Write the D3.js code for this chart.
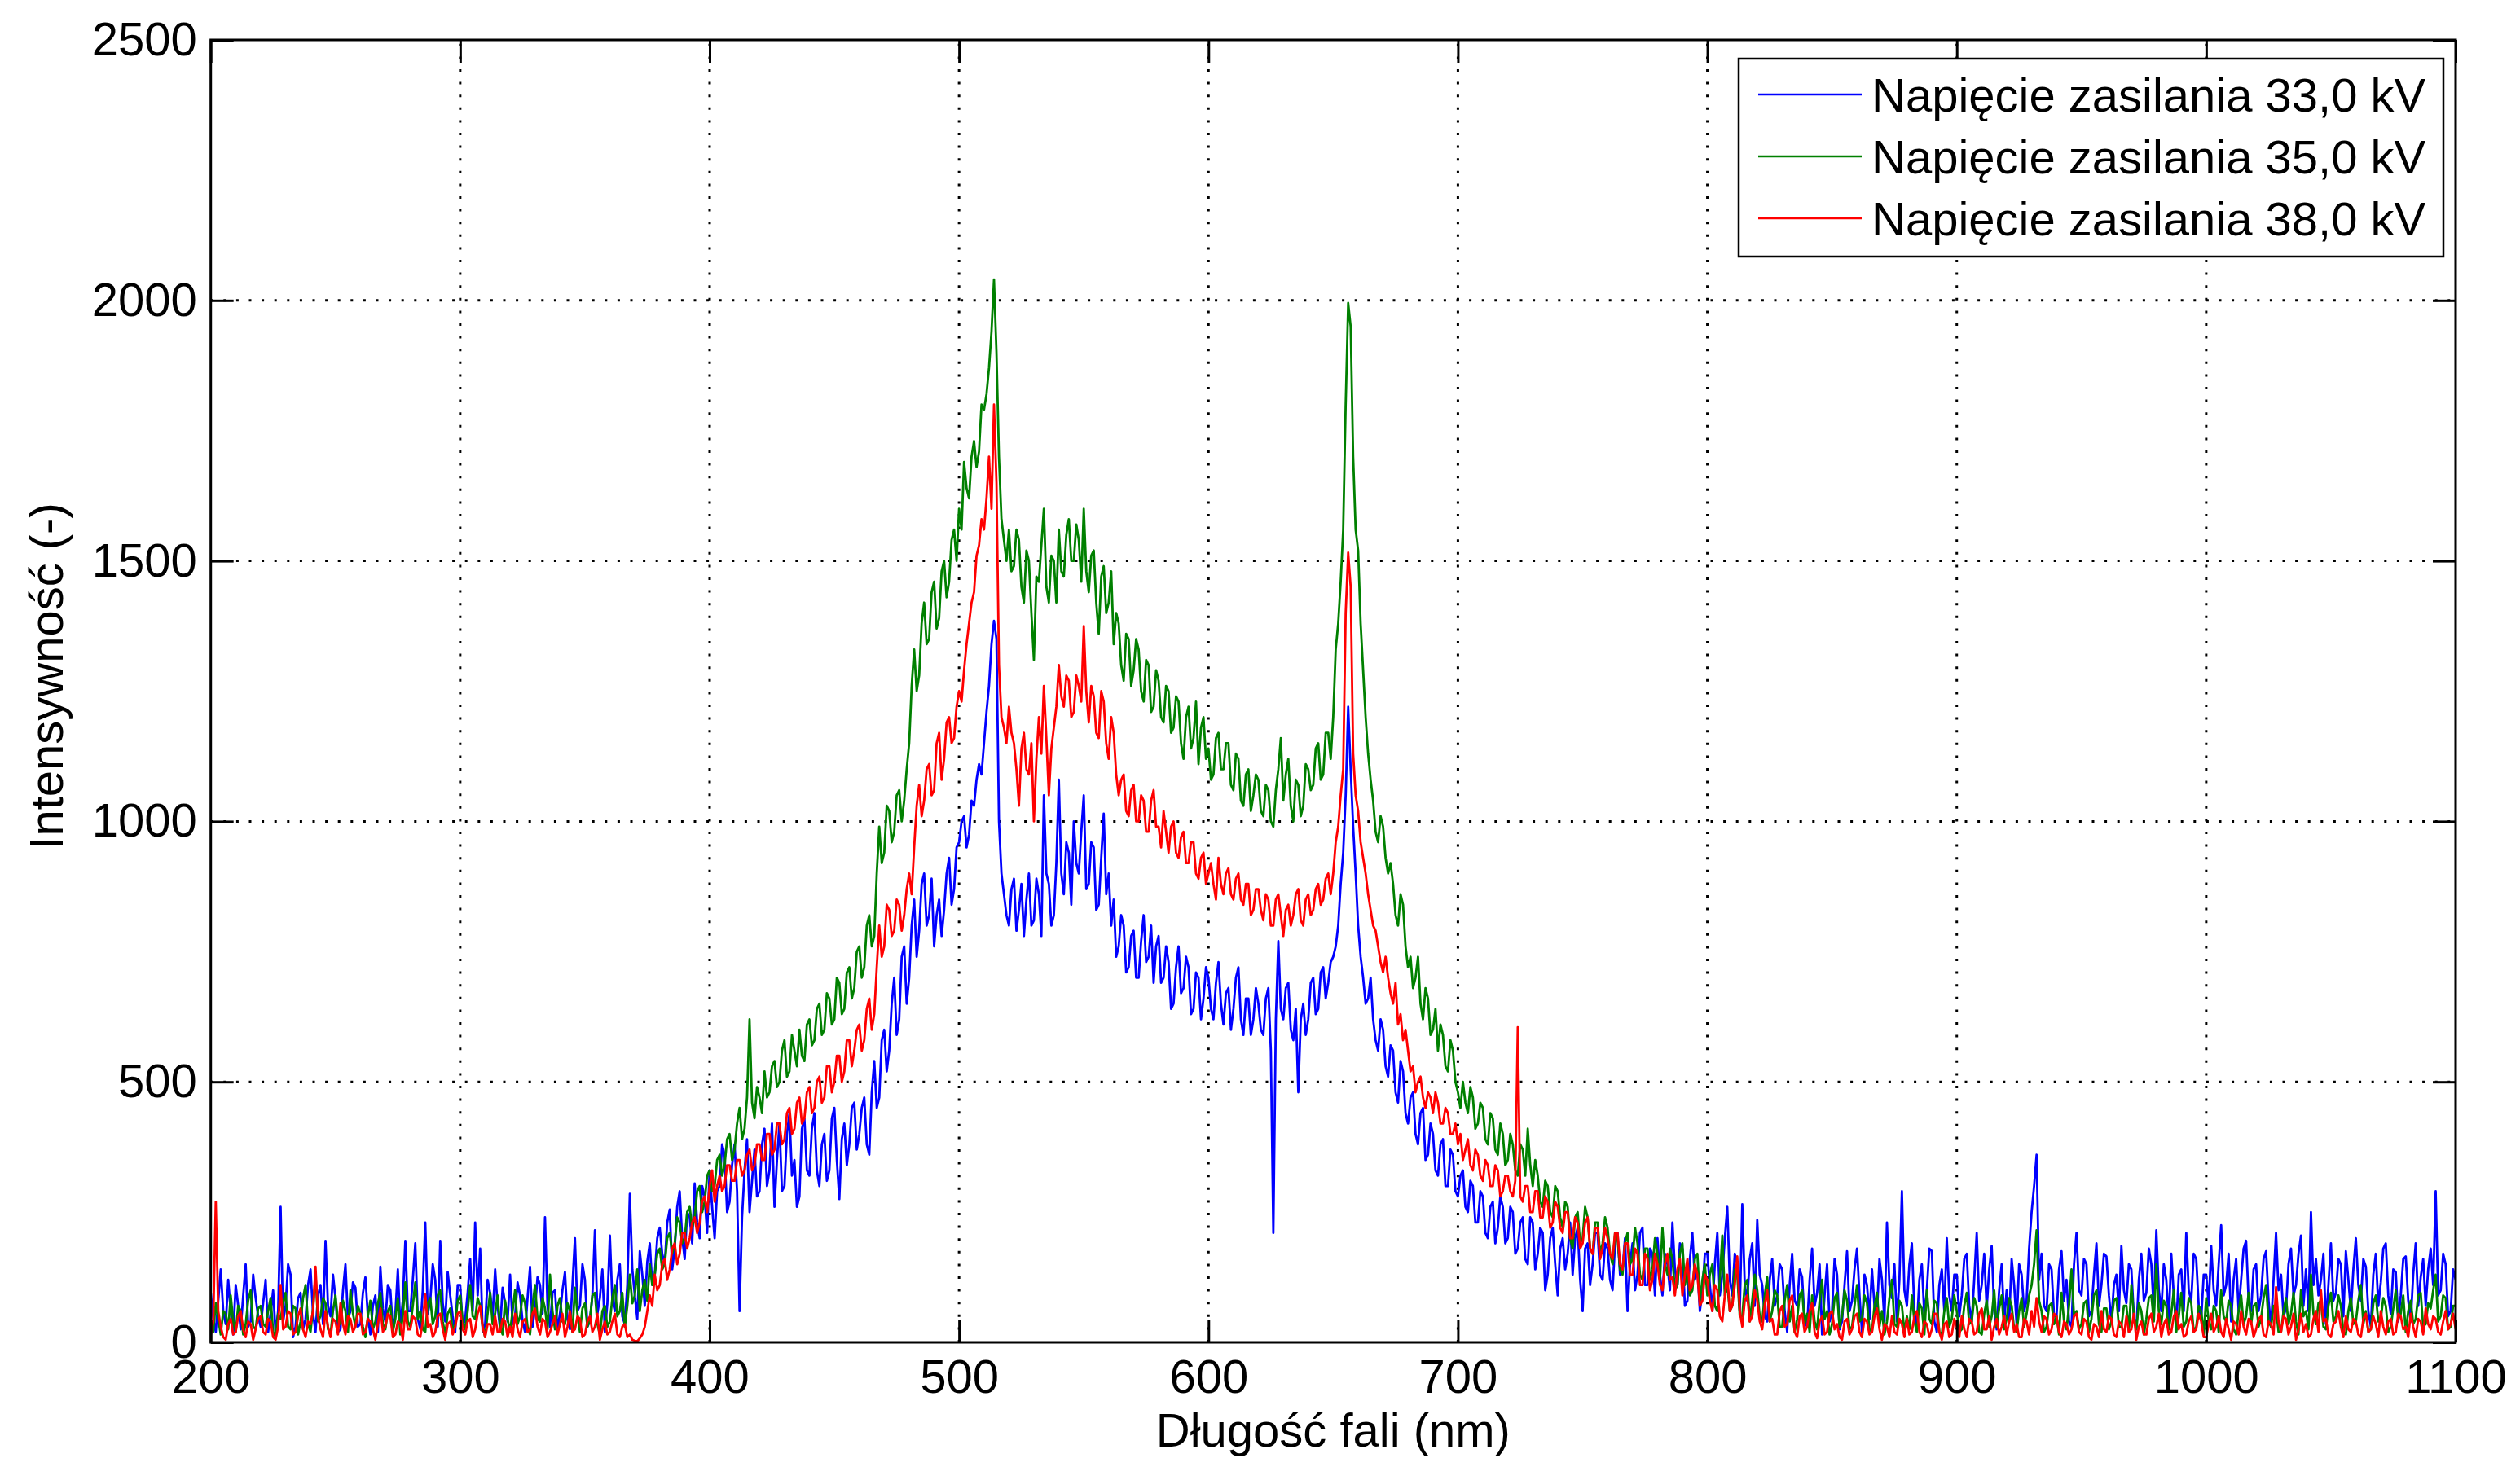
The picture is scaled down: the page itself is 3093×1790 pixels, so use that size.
<!DOCTYPE html>
<html>
<head>
<meta charset="utf-8">
<script src="https://cdn.jsdelivr.net/npm/d3@7"></script>
<style>
    body { margin: 0; background: #fff; }
</style>
</head>
<body>
<svg id="chart"></svg>
<script>
// Spectrum sampling grid (nm)
const wavelengthStart = 200;
const wavelengthStep = 1;

// Tick values
const xTicks = [200, 300, 400, 500, 600, 700, 800, 900, 1000, 1100];
const yTicks = [0, 500, 1000, 1500, 2000, 2500];

// Legend
const seriesLabels = ["Napięcie zasilania 33,0 kV", "Napięcie zasilania 35,0 kV", "Napięcie zasilania 38,0 kV"];
const seriesColors = ["#0000ff", "#008000", "#ff0000"];

// Intensity, one value per nm from 200 to 1100 nm (20 per row)
const intensity33kV = [
    /* 200 */ 95, 45, 20, 80, 140, 60, 35, 120, 60, 15, 110, 70, 25, 90, 150, 30, 40, 130, 85, 50,
    /* 220 */ 30, 75, 120, 20, 55, 100, 15, 60, 260, 40, 70, 150, 130, 10, 30, 85, 95, 25, 45, 110,
    /* 240 */ 140, 55, 20, 90, 110, 35, 195, 70, 50, 130, 85, 20, 25, 100, 150, 45, 60, 115, 105, 30,
    /* 260 */ 35, 95, 125, 50, 15, 70, 90, 20, 145, 65, 40, 110, 100, 25, 55, 140, 30, 80, 195, 60,
    /* 280 */ 60, 120, 190, 45, 25, 100, 230, 55, 80, 150, 120, 30, 195, 75, 40, 135, 90, 50, 20, 110,
    /* 300 */ 110, 30, 45, 95, 160, 60, 230, 90, 180, 20, 35, 120, 95, 50, 140, 70, 25, 105, 75, 40,
    /* 320 */ 130, 35, 50, 115, 90, 40, 20, 85, 145, 30, 65, 125, 110, 55, 240, 70, 30, 95, 100, 25,
    /* 340 */ 55, 100, 135, 45, 25, 110, 200, 60, 70, 150, 120, 30, 40, 90, 215, 55, 85, 140, 20, 75,
    /* 360 */ 205, 80, 60, 120, 150, 50, 35, 110, 285, 140, 90, 45, 175, 130, 70, 155, 190, 110, 130, 200,
    /* 380 */ 220, 170, 150, 230, 255, 140, 180, 260, 290, 200, 160, 250, 240, 190, 305, 230, 200, 300, 280, 210,
    /* 400 */ 330, 260, 200, 290, 300, 380, 360, 250, 270, 340, 380, 290, 60, 240, 330, 390, 250, 310, 370, 280,
    /* 420 */ 290, 380, 410, 300, 330, 420, 260, 350, 420, 290, 300, 400, 440, 320, 350, 260, 280, 410, 430, 330,
    /* 440 */ 320, 410, 440, 330, 300, 380, 400, 310, 330, 430, 450, 350, 275, 390, 420, 340, 380, 450, 460, 370,
    /* 460 */ 400, 450, 470, 380, 360, 480, 540, 450, 470, 580, 600, 520, 560, 650, 700, 590, 620, 740, 760, 650,
    /* 480 */ 700, 800, 850, 740, 790, 880, 900, 800, 820, 890, 760, 820, 850, 780, 830, 900, 930, 840, 870, 950,
    /* 500 */ 960, 1000, 1010, 950, 975, 1040, 1030, 1080, 1110, 1090, 1150, 1210, 1260, 1340, 1385, 1350, 1000, 900, 860, 820,
    /* 520 */ 800, 870, 890, 790, 830, 880, 780, 850, 900, 800, 810, 890, 860, 780, 1050, 900, 880, 800, 820, 920,
    /* 540 */ 1080, 900, 860, 960, 940, 840, 1000, 920, 900, 980, 1050, 870, 880, 960, 950, 830, 840, 930, 1015, 860,
    /* 560 */ 900, 800, 850, 740, 760, 820, 800, 710, 720, 780, 790, 700, 700, 770, 820, 730, 740, 800, 690, 760,
    /* 580 */ 780, 690, 700, 760, 730, 640, 650, 720, 760, 670, 680, 740, 720, 630, 640, 710, 700, 620, 660, 720,
    /* 600 */ 700, 640, 620, 690, 730, 650, 610, 670, 680, 600, 640, 700, 720, 620, 590, 660, 660, 590, 620, 680,
    /* 620 */ 650, 600, 590, 660, 680, 560, 210, 620, 770, 640, 620, 680, 690, 600, 580, 640, 480, 620, 650, 590,
    /* 640 */ 620, 690, 700, 630, 640, 710, 720, 660, 690, 730, 740, 760, 800, 880, 940, 1050, 1220, 1100, 990, 900,
    /* 660 */ 800, 740, 700, 650, 660, 700, 620, 580, 560, 620, 600, 530, 510, 570, 560, 480, 460, 540, 520, 440,
    /* 680 */ 420, 470, 480, 400, 380, 440, 450, 350, 360, 420, 400, 330, 320, 380, 390, 300, 300, 370, 360, 290,
    /* 700 */ 280, 320, 330, 260, 250, 310, 300, 230, 230, 290, 280, 210, 200, 260, 270, 190, 220, 280, 260, 190,
    /* 720 */ 200, 260, 250, 170, 180, 230, 240, 160, 150, 240, 230, 140, 170, 220, 210, 100, 130, 200, 220, 150,
    /* 740 */ 90, 180, 200, 140, 170, 230, 130, 200, 220, 120, 60, 180, 190, 110, 150, 210, 210, 130, 120, 190,
    /* 760 */ 180, 120, 100, 190, 210, 130, 140, 200, 60, 150, 190, 100, 130, 210, 220, 110, 110, 180, 170, 90,
    /* 780 */ 200, 130, 90, 170, 150, 100, 230, 140, 110, 190, 180, 70, 80, 160, 210, 120, 140, 60, 95, 170,
    /* 800 */ 170, 110, 60, 150, 210, 90, 130, 200, 260, 120, 90, 170, 150, 60, 265, 110, 80, 160, 190, 70,
    /* 820 */ 235, 130, 110, 50, 40, 120, 160, 70, 90, 150, 140, 60, 20, 110, 170, 80, 70, 140, 125, 40,
    /* 840 */ 30, 120, 180, 70, 95, 150, 15, 90, 150, 40, 60, 160, 130, 25, 40, 110, 175, 60, 80, 140,
    /* 860 */ 180, 90, 20, 130, 110, 45, 140, 70, 55, 160, 120, 40, 230, 110, 85, 150, 40, 120, 290, 100,
    /* 880 */ 70, 150, 190, 60, 30, 120, 150, 50, 100, 180, 175, 40, 20, 110, 140, 60, 200, 90, 60, 130,
    /* 900 */ 130, 50, 90, 160, 170, 70, 40, 120, 210, 80, 110, 170, 65, 140, 185, 60, 25, 100, 150, 40,
    /* 920 */ 100, 40, 160, 110, 35, 150, 130, 60, 80, 180, 250, 300, 360, 120, 170, 70, 60, 150, 140, 50,
    /* 940 */ 50, 140, 175, 80, 120, 40, 30, 150, 210, 100, 90, 160, 150, 50, 60, 130, 190, 70, 110, 170,
    /* 960 */ 165, 90, 40, 110, 130, 60, 185, 100, 75, 150, 140, 50, 25, 120, 170, 80, 95, 180, 150, 60,
    /* 980 */ 215, 100, 60, 150, 120, 40, 170, 90, 30, 130, 140, 60, 210, 100, 80, 170, 160, 70, 45, 130,
    /* 1000 */ 130, 70, 185, 100, 70, 150, 225, 90, 110, 170, 40, 120, 160, 60, 120, 180, 195, 80, 60, 140,
    /* 1020 */ 150, 60, 90, 160, 175, 80, 30, 120, 210, 100, 130, 50, 65, 150, 180, 90, 110, 170, 205, 70,
    /* 1040 */ 140, 60, 250, 110, 160, 90, 120, 170, 35, 110, 190, 80, 95, 160, 150, 50, 175, 120, 60, 140,
    /* 1060 */ 200, 110, 80, 160, 145, 60, 30, 130, 170, 70, 115, 180, 190, 90, 55, 140, 135, 40, 90, 160,
    /* 1080 */ 165, 80, 40, 130, 190, 70, 125, 160, 70, 140, 180, 110, 290, 90, 100, 170, 150, 50, 60, 140,
    /* 1100 */ 120
];

const intensity35kV = [
    /* 200 */ 40, 20, 75, 45, 15, 60, 55, 25, 90, 40, 20, 70, 60, 15, 35, 80, 100, 30, 25, 65,
    /* 220 */ 70, 35, 30, 60, 85, 20, 10, 55, 45, 75, 95, 30, 25, 70, 65, 15, 40, 85, 110, 35,
    /* 240 */ 20, 65, 130, 40, 50, 85, 75, 25, 15, 60, 90, 40, 35, 80, 60, 20, 100, 55, 30, 70,
    /* 260 */ 55, 30, 10, 50, 80, 25, 40, 75, 95, 35, 25, 60, 70, 20, 45, 85, 15, 50, 115, 40,
    /* 280 */ 30, 70, 115, 45, 60, 25, 20, 75, 85, 35, 50, 90, 100, 40, 15, 55, 65, 20, 35, 80,
    /* 300 */ 90, 40, 25, 60, 110, 50, 45, 85, 70, 30, 10, 55, 95, 35, 55, 90, 30, 15, 80, 45,
    /* 320 */ 20, 60, 100, 35, 50, 90, 75, 30, 15, 70, 110, 45, 40, 85, 65, 25, 130, 60, 25, 70,
    /* 340 */ 85, 40, 35, 75, 60, 20, 105, 55, 20, 65, 75, 30, 45, 90, 95, 35, 15, 60, 70, 30,
    /* 360 */ 40, 85, 110, 50, 60, 95, 30, 70, 130, 75, 90, 140, 60, 100, 120, 80, 150, 110, 130, 170,
    /* 380 */ 180, 140, 150, 200, 210, 170, 190, 240, 230, 190, 200, 250, 260, 220, 240, 290, 300, 250, 270, 320,
    /* 400 */ 330, 290, 300, 350, 360, 320, 340, 390, 400, 350, 370, 420, 450, 390, 410, 470, 620, 460, 430, 490,
    /* 420 */ 470, 440, 520, 470, 480, 530, 540, 490, 500, 560, 580, 510, 520, 590, 560, 530, 600, 550, 540, 610,
    /* 440 */ 620, 570, 580, 640, 650, 590, 600, 670, 660, 610, 620, 700, 690, 630, 640, 710, 720, 660, 680, 750,
    /* 460 */ 760, 700, 720, 800, 820, 760, 780, 900, 990, 920, 940, 1030, 1020, 960, 980, 1050, 1060, 1000, 1040, 1100,
    /* 480 */ 1150, 1260, 1330, 1250, 1280, 1380, 1420, 1340, 1350, 1440, 1460, 1370, 1390, 1480, 1500, 1430, 1460, 1540, 1560, 1500,
    /* 500 */ 1600, 1560, 1690, 1640, 1620, 1700, 1730, 1680, 1710, 1800, 1790, 1820, 1870, 1940, 2040, 1900, 1700, 1580, 1540, 1500,
    /* 520 */ 1560, 1480, 1490, 1560, 1540, 1450, 1420, 1520, 1500, 1400, 1310, 1470, 1460, 1530, 1600, 1450, 1420, 1510, 1500, 1420,
    /* 540 */ 1560, 1480, 1470, 1550, 1580, 1500, 1500, 1570, 1540, 1460, 1600, 1480, 1440, 1510, 1520, 1420, 1360, 1470, 1490, 1400,
    /* 560 */ 1420, 1480, 1340, 1400, 1380, 1300, 1270, 1360, 1350, 1260, 1290, 1350, 1330, 1250, 1230, 1310, 1300, 1210, 1220, 1290,
    /* 580 */ 1270, 1200, 1190, 1260, 1250, 1170, 1180, 1240, 1230, 1150, 1120, 1200, 1220, 1140, 1160, 1230, 1110, 1180, 1200, 1120,
    /* 600 */ 1140, 1080, 1090, 1160, 1170, 1100, 1100, 1150, 1150, 1070, 1060, 1130, 1120, 1040, 1030, 1090, 1100, 1020, 1050, 1090,
    /* 620 */ 1080, 1020, 1010, 1070, 1060, 1000, 990, 1060, 1100, 1160, 1040, 1090, 1120, 1030, 1000, 1080, 1070, 1010, 1030, 1110,
    /* 640 */ 1100, 1060, 1070, 1140, 1150, 1080, 1090, 1170, 1170, 1120, 1200, 1330, 1380, 1460, 1560, 1800, 1995, 1950, 1700, 1560,
    /* 660 */ 1520, 1380, 1290, 1200, 1130, 1080, 1040, 980, 960, 1010, 990, 930, 900, 920, 880, 820, 800, 860, 840, 760,
    /* 680 */ 720, 740, 680, 700, 740, 650, 620, 680, 660, 590, 600, 640, 560, 610, 590, 530, 520, 580, 560, 500,
    /* 700 */ 480, 450, 500, 460, 440, 490, 470, 410, 420, 460, 450, 390, 380, 440, 430, 370, 360, 420, 400, 340,
    /* 720 */ 350, 400, 380, 330, 320, 380, 370, 320, 410, 340, 300, 350, 320, 270, 260, 310, 300, 250, 240, 300,
    /* 740 */ 290, 240, 220, 270, 260, 200, 180, 240, 250, 190, 200, 260, 240, 180, 170, 230, 230, 170, 190, 240,
    /* 760 */ 220, 170, 150, 210, 200, 140, 130, 190, 210, 150, 160, 220, 190, 130, 120, 180, 180, 120, 140, 200,
    /* 780 */ 170, 120, 220, 150, 130, 180, 160, 100, 110, 170, 190, 110, 140, 90, 100, 160, 170, 80, 120, 150,
    /* 800 */ 90, 130, 150, 70, 60, 120, 205, 90, 110, 60, 70, 140, 130, 50, 50, 110, 120, 40, 80, 130,
    /* 820 */ 100, 50, 40, 90, 125, 40, 60, 100, 90, 30, 30, 80, 110, 40, 70, 20, 45, 90, 100, 35,
    /* 840 */ 55, 20, 90, 40, 25, 80, 120, 45, 60, 15, 35, 85, 95, 30, 50, 100, 80, 25, 30, 70,
    /* 860 */ 110, 40, 45, 90, 75, 25, 20, 70, 95, 30, 60, 15, 40, 85, 120, 35, 30, 80, 70, 20,
    /* 880 */ 50, 25, 90, 40, 20, 75, 65, 15, 100, 45, 35, 80, 75, 20, 15, 60, 85, 30, 45, 90,
    /* 900 */ 60, 20, 25, 70, 95, 35, 40, 85, 70, 20, 15, 55, 80, 30, 50, 100, 30, 65, 90, 25,
    /* 920 */ 45, 85, 70, 25, 20, 60, 85, 30, 55, 90, 110, 150, 215, 80, 60, 20, 30, 70, 75, 35,
    /* 940 */ 50, 15, 95, 40, 25, 70, 140, 50, 60, 25, 35, 75, 80, 20, 45, 90, 100, 35, 20, 65,
    /* 960 */ 65, 25, 40, 80, 85, 30, 30, 70, 70, 20, 110, 50, 25, 75, 60, 15, 45, 85, 90, 40,
    /* 980 */ 150, 60, 35, 80, 70, 25, 55, 100, 20, 50, 95, 30, 40, 85, 75, 20, 30, 70, 60, 15,
    /* 1000 */ 85, 40, 25, 70, 60, 20, 100, 50, 40, 80, 70, 25, 15, 60, 90, 35, 50, 95, 35, 70,
    /* 1020 */ 75, 30, 45, 85, 110, 40, 30, 70, 65, 20, 20, 60, 85, 35, 55, 95, 40, 15, 100, 50,
    /* 1040 */ 60, 25, 130, 55, 35, 75, 80, 30, 25, 70, 95, 40, 50, 90, 70, 20, 15, 60, 85, 35,
    /* 1060 */ 40, 80, 110, 35, 60, 20, 25, 75, 90, 40, 45, 85, 70, 20, 30, 65, 100, 45, 55, 90,
    /* 1080 */ 20, 60, 80, 35, 45, 90, 95, 30, 35, 75, 65, 100, 130, 40, 50, 90, 85, 25, 30, 70,
    /* 1100 */ 70
];

const intensity38kV = [
    /* 200 */ 15, 40, 270, 60, 30, 10, 5, 35, 45, 15, 20, 50, 60, 25, 10, 40, 35, 5, 25, 45,
    /* 220 */ 50, 20, 15, 45, 40, 10, 5, 30, 110, 25, 30, 60, 55, 15, 20, 50, 65, 25, 10, 40,
    /* 240 */ 35, 60, 145, 50, 25, 10, 60, 30, 10, 45, 40, 15, 75, 35, 15, 50, 45, 20, 30, 55,
    /* 260 */ 55, 15, 20, 45, 40, 25, 5, 35, 65, 20, 30, 55, 50, 10, 15, 40, 35, 5, 60, 25,
    /* 280 */ 25, 50, 45, 15, 10, 40, 92, 30, 35, 10, 20, 50, 55, 25, 5, 35, 40, 15, 30, 55,
    /* 300 */ 60, 25, 15, 40, 45, 10, 25, 55, 70, 30, 10, 35, 35, 15, 50, 20, 20, 45, 40, 10,
    /* 320 */ 30, 10, 55, 25, 10, 40, 45, 20, 25, 55, 65, 30, 15, 45, 40, 10, 20, 35, 50, 15,
    /* 340 */ 35, 55, 10, 30, 60, 20, 25, 50, 45, 10, 15, 40, 50, 20, 30, 55, 5, 25, 40, 15,
    /* 360 */ 20, 40, 55, 15, 10, 30, 35, 10, 15, 5, 3, 2, 8, 15, 30, 60, 90, 70, 130, 100,
    /* 380 */ 110, 150, 160, 120, 140, 180, 190, 150, 170, 210, 210, 180, 200, 230, 240, 210, 230, 270, 280, 250,
    /* 400 */ 300, 330, 270, 300, 320, 290, 300, 340, 340, 310, 310, 350, 350, 320, 330, 360, 370, 330, 340, 380,
    /* 420 */ 380, 350, 350, 400, 400, 360, 370, 420, 420, 380, 390, 440, 450, 400, 410, 460, 470, 420, 430, 480,
    /* 440 */ 490, 440, 450, 500, 510, 460, 470, 530, 530, 480, 500, 550, 550, 500, 520, 580, 580, 530, 560, 600,
    /* 460 */ 610, 560, 580, 640, 660, 600, 630, 720, 800, 740, 760, 840, 830, 780, 790, 850, 840, 790, 820, 870,
    /* 480 */ 900, 860, 950, 1030, 1070, 1010, 1040, 1100, 1110, 1050, 1060, 1150, 1170, 1080, 1120, 1190, 1200, 1150, 1160, 1220,
    /* 500 */ 1250, 1230, 1290, 1340, 1380, 1420, 1440, 1510, 1530, 1580, 1560, 1620, 1700, 1600, 1800, 1650, 1300, 1200, 1180, 1150,
    /* 520 */ 1220, 1170, 1150, 1100, 1030, 1140, 1170, 1100, 1090, 1150, 1000, 1120, 1200, 1130, 1260, 1160, 1050, 1140, 1180, 1220,
    /* 540 */ 1300, 1240, 1220, 1280, 1270, 1200, 1210, 1280, 1260, 1230, 1375, 1250, 1190, 1260, 1240, 1170, 1160, 1250, 1230, 1150,
    /* 560 */ 1120, 1200, 1170, 1090, 1050, 1080, 1090, 1020, 1010, 1060, 1070, 1000, 1000, 1050, 1040, 980, 980, 1040, 1060, 990,
    /* 580 */ 990, 950, 1020, 980, 940, 990, 1000, 940, 930, 970, 980, 920, 920, 960, 960, 900, 890, 930, 940, 880,
    /* 600 */ 900, 920, 880, 850, 930, 880, 860, 900, 910, 860, 850, 890, 900, 850, 840, 880, 880, 820, 830, 870,
    /* 620 */ 870, 830, 810, 860, 850, 800, 800, 850, 860, 820, 780, 830, 840, 800, 820, 860, 870, 810, 800, 850,
    /* 640 */ 860, 820, 830, 870, 880, 840, 850, 890, 900, 860, 900, 960, 990, 1050, 1100, 1400, 1516, 1450, 1130, 1050,
    /* 660 */ 1020, 960, 930, 900, 860, 830, 800, 790, 760, 730, 710, 740, 700, 670, 650, 690, 610, 630, 580, 600,
    /* 680 */ 560, 520, 530, 480, 500, 510, 470, 450, 480, 470, 440, 480, 460, 420, 420, 450, 440, 400, 400, 420,
    /* 700 */ 380, 400, 350, 370, 390, 340, 330, 370, 360, 320, 310, 350, 340, 300, 300, 340, 330, 280, 290, 320,
    /* 720 */ 320, 290, 280, 310, 605, 280, 270, 300, 300, 250, 250, 290, 290, 240, 240, 280, 270, 220, 230, 270,
    /* 740 */ 260, 220, 210, 250, 250, 200, 200, 240, 230, 180, 190, 230, 240, 180, 170, 220, 220, 160, 180, 220,
    /* 760 */ 200, 170, 160, 210, 210, 150, 140, 190, 190, 130, 130, 180, 170, 110, 110, 170, 160, 100, 120, 170,
    /* 780 */ 150, 110, 100, 150, 170, 120, 125, 90, 140, 160, 90, 130, 160, 100, 110, 150, 130, 70, 80, 130,
    /* 800 */ 120, 80, 60, 110, 100, 50, 40, 90, 130, 60, 70, 110, 165, 60, 30, 80, 90, 40, 50, 100,
    /* 820 */ 80, 40, 25, 70, 100, 40, 45, 15, 15, 60, 70, 30, 35, 80, 90, 20, 10, 50, 55, 20,
    /* 840 */ 30, 60, 75, 20, 8, 40, 50, 15, 20, 55, 60, 25, 35, 10, 5, 40, 45, 15, 25, 50,
    /* 860 */ 55, 20, 10, 45, 40, 15, 20, 50, 65, 25, 5, 35, 30, 10, 50, 20, 15, 45, 35, 10,
    /* 880 */ 45, 15, 20, 50, 60, 20, 10, 40, 35, 10, 25, 55, 55, 20, 5, 35, 40, 10, 15, 45,
    /* 900 */ 30, 10, 50, 25, 10, 45, 40, 15, 20, 55, 65, 25, 25, 50, 5, 30, 45, 15, 30, 50,
    /* 920 */ 15, 40, 55, 20, 35, 10, 10, 45, 40, 15, 60, 30, 85, 40, 20, 50, 45, 15, 25, 55,
    /* 940 */ 50, 20, 10, 40, 35, 15, 25, 50, 55, 20, 15, 45, 40, 10, 5, 35, 30, 10, 60, 25,
    /* 960 */ 20, 50, 45, 15, 10, 40, 35, 10, 50, 20, 25, 55, 5, 30, 40, 15, 15, 45, 55, 20,
    /* 980 */ 30, 55, 10, 35, 45, 15, 20, 50, 60, 25, 35, 10, 15, 40, 50, 20, 25, 55, 40, 10,
    /* 1000 */ 10, 35, 55, 20, 30, 50, 20, 10, 45, 25, 5, 40, 35, 15, 60, 30, 15, 45, 40, 10,
    /* 1020 */ 25, 45, 50, 15, 10, 40, 35, 15, 106, 40, 20, 50, 45, 15, 30, 55, 5, 25, 55, 20,
    /* 1040 */ 35, 10, 15, 45, 60, 20, 100, 40, 45, 15, 10, 35, 40, 60, 30, 10, 50, 25, 20, 45,
    /* 1060 */ 40, 15, 10, 45, 55, 20, 25, 50, 35, 10, 60, 30, 15, 40, 45, 15, 20, 55, 50, 25,
    /* 1080 */ 30, 10, 55, 30, 10, 45, 40, 15, 65, 35, 25, 50, 45, 20, 15, 40, 60, 25, 35, 55,
    /* 1100 */ 25
];

const seriesValues = [intensity33kV, intensity35kV, intensity38kV];

// Dimensions
const dimensions = {
    width: 3093,
    height: 1790,
    left: 258.7,
    right: 3014,
    top: 49,
    bottom: 1648,
    tickLength: 28,
    fontSize: 58,
};
const fontFamily = "'Liberation Sans', Arial, Helvetica, sans-serif";

const xScale = d3.scaleLinear()
    .domain([200, 1100])
    .range([dimensions.left, dimensions.right]);

const yScale = d3.scaleLinear()
    .domain([0, 2500])
    .range([dimensions.bottom, dimensions.top]);

const svg = d3.select("#chart")
    .attr("width", dimensions.width)
    .attr("height", dimensions.height)
    .style("display", "block");

svg.append("rect")
    .attr("width", dimensions.width)
    .attr("height", dimensions.height)
    .attr("fill", "#fff");

svg.append("clipPath")
    .attr("id", "plot-clip")
    .append("rect")
    .attr("x", dimensions.left)
    .attr("y", dimensions.top)
    .attr("width", dimensions.right - dimensions.left)
    .attr("height", dimensions.bottom - dimensions.top);

// Dotted grid
const grid = svg.append("g")
    .attr("stroke", "#000")
    .attr("stroke-width", 3)
    .attr("stroke-dasharray", "3,12.6");

grid.selectAll(".vgrid")
    .data(xTicks.slice(1, -1))
    .enter()
    .append("line")
    .attr("x1", d => xScale(d))
    .attr("x2", d => xScale(d))
    .attr("y1", dimensions.bottom)
    .attr("y2", dimensions.top);

grid.selectAll(".hgrid")
    .data(yTicks.slice(1, -1))
    .enter()
    .append("line")
    .attr("x1", dimensions.left)
    .attr("x2", dimensions.right)
    .attr("y1", d => yScale(d))
    .attr("y2", d => yScale(d));

// Spectra (drawn in legend order, so red ends up on top)
const line = d3.line()
    .x((d, i) => xScale(wavelengthStart + i * wavelengthStep))
    .y(d => yScale(d));

svg.append("g")
    .attr("clip-path", "url(#plot-clip)")
    .selectAll("path")
    .data(seriesValues)
    .enter()
    .append("path")
    .attr("d", d => line(d))
    .attr("fill", "none")
    .attr("stroke", (d, i) => seriesColors[i])
    .attr("stroke-width", 2.8)
    .attr("stroke-linejoin", "round");

// Axes (ticks point inward, MATLAB style)
function styleAxis(g) {
    g.attr("font-size", dimensions.fontSize).attr("font-family", fontFamily);
    g.select(".domain").remove();
    g.selectAll(".tick line").attr("stroke", "#000").attr("stroke-width", 3);
    g.selectAll(".tick text").attr("fill", "#000");
}

svg.append("g")
    .attr("transform", `translate(0,${dimensions.bottom})`)
    .call(d3.axisBottom(xScale).tickValues(xTicks).tickFormat(d3.format("d"))
        .tickSizeInner(-dimensions.tickLength).tickSizeOuter(0).tickPadding(21))
    .call(styleAxis);

svg.append("g")
    .attr("transform", `translate(0,${dimensions.top})`)
    .call(d3.axisTop(xScale).tickValues(xTicks).tickFormat("")
        .tickSizeInner(-dimensions.tickLength).tickSizeOuter(0))
    .call(styleAxis);

svg.append("g")
    .attr("transform", `translate(${dimensions.left},0)`)
    .call(d3.axisLeft(yScale).tickValues(yTicks).tickFormat(d3.format("d"))
        .tickSizeInner(-dimensions.tickLength).tickSizeOuter(0).tickPadding(17))
    .call(styleAxis);

svg.append("g")
    .attr("transform", `translate(${dimensions.right},0)`)
    .call(d3.axisRight(yScale).tickValues(yTicks).tickFormat("")
        .tickSizeInner(-dimensions.tickLength).tickSizeOuter(0))
    .call(styleAxis);

// Plot box
svg.append("rect")
    .attr("x", dimensions.left)
    .attr("y", dimensions.top)
    .attr("width", dimensions.right - dimensions.left)
    .attr("height", dimensions.bottom - dimensions.top)
    .attr("fill", "none")
    .attr("stroke", "#000")
    .attr("stroke-width", 3);

// Axis titles
svg.append("text")
    .attr("x", (dimensions.left + dimensions.right) / 2)
    .attr("y", 1776)
    .attr("text-anchor", "middle")
    .attr("font-family", fontFamily)
    .attr("font-size", dimensions.fontSize)
    .text("Długość fali (nm)");

svg.append("text")
    .attr("transform", "translate(77,830) rotate(-90)")
    .attr("text-anchor", "middle")
    .attr("font-family", fontFamily)
    .attr("font-size", dimensions.fontSize)
    .text("Intensywność (-)");

// Legend
const legend = svg.append("g").attr("transform", "translate(2134,72)");

legend.append("rect")
    .attr("width", 865)
    .attr("height", 243)
    .attr("fill", "#fff")
    .attr("stroke", "#000")
    .attr("stroke-width", 2.5);

seriesLabels.forEach((label, i) => {
    const rowY = 44 + i * 76;
    legend.append("line")
        .attr("x1", 24)
        .attr("x2", 151)
        .attr("y1", rowY)
        .attr("y2", rowY)
        .attr("stroke", seriesColors[i])
        .attr("stroke-width", 2.5);
    legend.append("text")
        .attr("x", 163)
        .attr("y", rowY + 21)
        .attr("font-family", fontFamily)
        .attr("font-size", dimensions.fontSize)
        .text(label);
});
</script>
</body>
</html>
